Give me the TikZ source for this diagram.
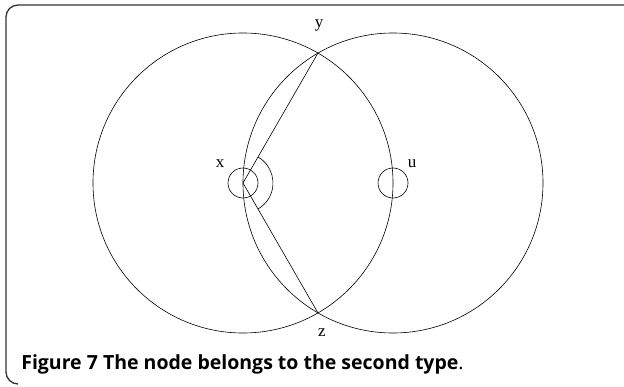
\documentclass[tikz,border=0pt]{standalone}
\usepackage{fontspec}
\setmainfont{Liberation Serif}
\newfontfamily\captionfont{Open Sans}
\begin{document}
\begin{tikzpicture}[x=1pt, y=1pt, line width=0.6pt,
    ptlabel/.style={font=\fontsize{17}{17}\selectfont, inner sep=0pt}]
  \useasboundingbox (0,0) rectangle (624,386);

  % Cadre
  \draw[line width=1.3pt, black!80] (624,381) -- (18,381) arc (90:180:12)
    -- (6,14) arc (180:270:12);

  % Points
  \coordinate (x) at (243,203);
  \coordinate (u) at (393,203);
  \coordinate (y) at (318,333);
  \coordinate (z) at (318,73);

  % Grands cercles
  \draw (x) circle (150);
  \draw (u) circle (150);

  % Petits cercles
  \draw (x) circle (15);
  \draw (u) circle (15);

  % Segments et angle
  \draw (y) -- (x) -- (z);
  \draw ([shift={(60:30)}]x) arc (60:-60:30);

  % Etiquettes
  \node[ptlabel] (xlab) at (220,222) {x};
  \node[ptlabel] (ulab) at (412,222) {u};
  \node[ptlabel] (ylab) at (319,361) {y};
  \node[ptlabel] (zlab) at (322,53) {z};

  % Legende
  \node[anchor=base west, inner sep=0pt, font=\captionfont\fontsize{19.5}{19.5}\selectfont]
    (caption) at (21,17) {\textbf{Figure 7 The node belongs to the second type}.};
\end{tikzpicture}
\end{document}
